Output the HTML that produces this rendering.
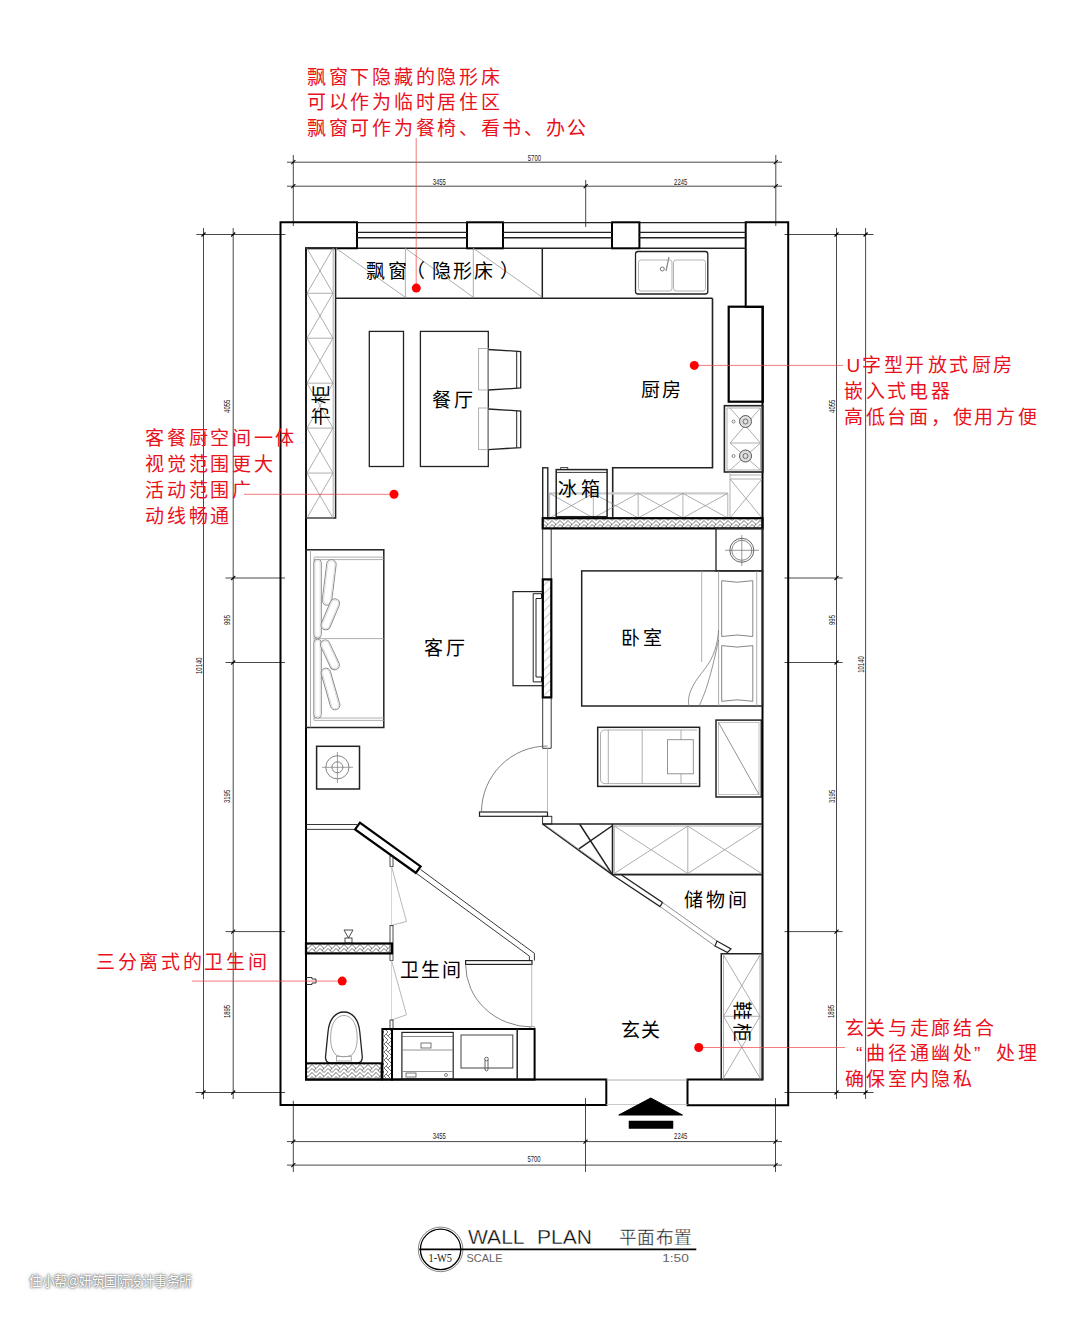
<!DOCTYPE html>
<html lang="zh-CN"><head><meta charset="utf-8"><title>WALL PLAN</title>
<style>
html,body{margin:0;padding:0;background:#fff;}
body{width:1080px;height:1318px;overflow:hidden;position:relative;font-family:"Liberation Sans",sans-serif;}
svg{position:absolute;left:0;top:0;}
.wm{position:absolute;left:29px;top:1272px;font-size:13.8px;line-height:19px;color:#fff;text-shadow:0 0 1px #777,0 0 2px #888,0 0 3px #999,0 0 5px #bbb;white-space:nowrap;letter-spacing:-0.6px;transform:scaleX(0.935);transform-origin:0 0;}
</style></head><body>
<svg width="1080" height="1318" viewBox="0 0 1080 1318">
<defs>
<pattern id="hz" patternUnits="userSpaceOnUse" width="8" height="8" y="0.5">
<path d="M0 0 L4 4 L8 0 M0 4 L4 8 L8 4 M4 4 L2 6 M8 0 L6 2 M0 0 L2 -2 M8 8 L6 10" stroke="#666" stroke-width="0.85" fill="none"/></pattern>
<pattern id="hv" patternUnits="userSpaceOnUse" width="8" height="8" patternTransform="rotate(90)">
<path d="M0 0 L4 4 L8 0 M0 4 L4 8 L8 4 M4 4 L2 6 M8 0 L6 2 M0 0 L2 -2 M8 8 L6 10" stroke="#666" stroke-width="0.85" fill="none"/></pattern>
<pattern id="hd" patternUnits="userSpaceOnUse" width="6" height="6" patternTransform="rotate(45)">
<path d="M0 0 V6" stroke="#777" stroke-width="0.8" fill="none"/></pattern>
<pattern id="hd2" patternUnits="userSpaceOnUse" width="7" height="7" patternTransform="rotate(-55)">
<path d="M0 0 V7" stroke="#888" stroke-width="0.8" fill="none"/></pattern>
</defs>
<rect x="0" y="0" width="1080" height="1318" fill="#fff"/>
<line x1="287" y1="162.2" x2="782" y2="162.2" stroke="#333" stroke-width="0.9"/>
<line x1="287" y1="186.2" x2="782" y2="186.2" stroke="#333" stroke-width="0.9"/>
<line x1="293.3" y1="155" x2="293.3" y2="226" stroke="#333" stroke-width="0.9"/>
<line x1="775.8" y1="155" x2="775.8" y2="226" stroke="#333" stroke-width="0.9"/>
<line x1="585.7" y1="180" x2="585.7" y2="227" stroke="#333" stroke-width="0.9"/>
<line x1="291.3" y1="164.2" x2="295.3" y2="160.2" stroke="#000" stroke-width="1.1"/>
<line x1="773.8" y1="164.2" x2="777.8" y2="160.2" stroke="#000" stroke-width="1.1"/>
<line x1="291.3" y1="188.2" x2="295.3" y2="184.2" stroke="#000" stroke-width="1.1"/>
<line x1="583.7" y1="188.2" x2="587.7" y2="184.2" stroke="#000" stroke-width="1.1"/>
<line x1="773.8" y1="188.2" x2="777.8" y2="184.2" stroke="#000" stroke-width="1.1"/>
<text x="534.4" y="157.2" font-size="9.8" fill="#222" text-anchor="middle" dominant-baseline="central" font-family="Liberation Sans" textLength="13.2" lengthAdjust="spacingAndGlyphs">5700</text>
<text x="439.3" y="181.2" font-size="9.8" fill="#222" text-anchor="middle" dominant-baseline="central" font-family="Liberation Sans" textLength="13.2" lengthAdjust="spacingAndGlyphs">3455</text>
<text x="680.7" y="181.2" font-size="9.8" fill="#222" text-anchor="middle" dominant-baseline="central" font-family="Liberation Sans" textLength="13.2" lengthAdjust="spacingAndGlyphs">2245</text>
<line x1="287" y1="1141.6" x2="782" y2="1141.6" stroke="#333" stroke-width="0.9"/>
<line x1="287" y1="1165.1" x2="782" y2="1165.1" stroke="#333" stroke-width="0.9"/>
<line x1="293.3" y1="1100.7" x2="293.3" y2="1172" stroke="#333" stroke-width="0.9"/>
<line x1="585.5" y1="1098" x2="585.5" y2="1172" stroke="#333" stroke-width="0.9"/>
<line x1="775.5" y1="1098" x2="775.5" y2="1172" stroke="#333" stroke-width="0.9"/>
<line x1="291.3" y1="1143.6" x2="295.3" y2="1139.6" stroke="#000" stroke-width="1.1"/>
<line x1="583.5" y1="1143.6" x2="587.5" y2="1139.6" stroke="#000" stroke-width="1.1"/>
<line x1="773.5" y1="1143.6" x2="777.5" y2="1139.6" stroke="#000" stroke-width="1.1"/>
<line x1="291.3" y1="1167.1" x2="295.3" y2="1163.1" stroke="#000" stroke-width="1.1"/>
<line x1="773.5" y1="1167.1" x2="777.5" y2="1163.1" stroke="#000" stroke-width="1.1"/>
<text x="439.3" y="1135.5" font-size="9.8" fill="#222" text-anchor="middle" dominant-baseline="central" font-family="Liberation Sans" textLength="13.2" lengthAdjust="spacingAndGlyphs">3455</text>
<text x="680.7" y="1135.5" font-size="9.8" fill="#222" text-anchor="middle" dominant-baseline="central" font-family="Liberation Sans" textLength="13.2" lengthAdjust="spacingAndGlyphs">2245</text>
<text x="534" y="1158.5" font-size="9.8" fill="#222" text-anchor="middle" dominant-baseline="central" font-family="Liberation Sans" textLength="13.2" lengthAdjust="spacingAndGlyphs">5700</text>
<line x1="203.5" y1="228" x2="203.5" y2="1099" stroke="#333" stroke-width="0.9"/>
<line x1="233.2" y1="228" x2="233.2" y2="1099" stroke="#333" stroke-width="0.9"/>
<line x1="196.4" y1="234.5" x2="285.5" y2="234.5" stroke="#333" stroke-width="0.9"/>
<line x1="195.6" y1="1092.5" x2="285" y2="1092.5" stroke="#333" stroke-width="0.9"/>
<line x1="225.5" y1="578" x2="285" y2="578" stroke="#333" stroke-width="0.9"/>
<line x1="225.5" y1="662.5" x2="285" y2="662.5" stroke="#333" stroke-width="0.9"/>
<line x1="225.5" y1="931.6" x2="285" y2="931.6" stroke="#333" stroke-width="0.9"/>
<line x1="201.5" y1="236.5" x2="205.5" y2="232.5" stroke="#000" stroke-width="1.1"/>
<line x1="201.5" y1="1094.5" x2="205.5" y2="1090.5" stroke="#000" stroke-width="1.1"/>
<line x1="231.2" y1="236.5" x2="235.2" y2="232.5" stroke="#000" stroke-width="1.1"/>
<line x1="231.2" y1="580" x2="235.2" y2="576" stroke="#000" stroke-width="1.1"/>
<line x1="231.2" y1="664.5" x2="235.2" y2="660.5" stroke="#000" stroke-width="1.1"/>
<line x1="231.2" y1="933.6" x2="235.2" y2="929.6" stroke="#000" stroke-width="1.1"/>
<line x1="231.2" y1="1094.5" x2="235.2" y2="1090.5" stroke="#000" stroke-width="1.1"/>
<text x="226.5" y="406.3" font-size="9.8" fill="#222" text-anchor="middle" dominant-baseline="central" font-family="Liberation Sans" textLength="13.2" lengthAdjust="spacingAndGlyphs" transform="rotate(-90 226.5 406.3)">4055</text>
<text x="226.5" y="620" font-size="9.8" fill="#222" text-anchor="middle" dominant-baseline="central" font-family="Liberation Sans" textLength="9.9" lengthAdjust="spacingAndGlyphs" transform="rotate(-90 226.5 620)">995</text>
<text x="226.5" y="796.4" font-size="9.8" fill="#222" text-anchor="middle" dominant-baseline="central" font-family="Liberation Sans" textLength="13.2" lengthAdjust="spacingAndGlyphs" transform="rotate(-90 226.5 796.4)">3195</text>
<text x="226.7" y="1011.5" font-size="9.8" fill="#222" text-anchor="middle" dominant-baseline="central" font-family="Liberation Sans" textLength="13.2" lengthAdjust="spacingAndGlyphs" transform="rotate(-90 226.7 1011.5)">1895</text>
<text x="198.5" y="665.7" font-size="9.8" fill="#222" text-anchor="middle" dominant-baseline="central" font-family="Liberation Sans" textLength="16.5" lengthAdjust="spacingAndGlyphs" transform="rotate(-90 198.5 665.7)">10140</text>
<line x1="836.5" y1="228" x2="836.5" y2="1099" stroke="#333" stroke-width="0.9"/>
<line x1="865.6" y1="228" x2="865.6" y2="1099" stroke="#333" stroke-width="0.9"/>
<line x1="784.5" y1="234.5" x2="873.6" y2="234.5" stroke="#333" stroke-width="0.9"/>
<line x1="784.5" y1="1092.5" x2="873.6" y2="1092.5" stroke="#333" stroke-width="0.9"/>
<line x1="784.5" y1="578" x2="842.7" y2="578" stroke="#333" stroke-width="0.9"/>
<line x1="784.5" y1="662.5" x2="842.7" y2="662.5" stroke="#333" stroke-width="0.9"/>
<line x1="784.5" y1="931.6" x2="842.7" y2="931.6" stroke="#333" stroke-width="0.9"/>
<line x1="863.6" y1="236.5" x2="867.6" y2="232.5" stroke="#000" stroke-width="1.1"/>
<line x1="863.6" y1="1094.5" x2="867.6" y2="1090.5" stroke="#000" stroke-width="1.1"/>
<line x1="834.5" y1="236.5" x2="838.5" y2="232.5" stroke="#000" stroke-width="1.1"/>
<line x1="834.5" y1="580" x2="838.5" y2="576" stroke="#000" stroke-width="1.1"/>
<line x1="834.5" y1="664.5" x2="838.5" y2="660.5" stroke="#000" stroke-width="1.1"/>
<line x1="834.5" y1="933.6" x2="838.5" y2="929.6" stroke="#000" stroke-width="1.1"/>
<line x1="834.5" y1="1094.5" x2="838.5" y2="1090.5" stroke="#000" stroke-width="1.1"/>
<text x="831.8" y="406.3" font-size="9.8" fill="#222" text-anchor="middle" dominant-baseline="central" font-family="Liberation Sans" textLength="13.2" lengthAdjust="spacingAndGlyphs" transform="rotate(-90 831.8 406.3)">4055</text>
<text x="831.8" y="620" font-size="9.8" fill="#222" text-anchor="middle" dominant-baseline="central" font-family="Liberation Sans" textLength="9.9" lengthAdjust="spacingAndGlyphs" transform="rotate(-90 831.8 620)">995</text>
<text x="831.8" y="796.4" font-size="9.8" fill="#222" text-anchor="middle" dominant-baseline="central" font-family="Liberation Sans" textLength="13.2" lengthAdjust="spacingAndGlyphs" transform="rotate(-90 831.8 796.4)">3195</text>
<text x="830.5" y="1011.5" font-size="9.8" fill="#222" text-anchor="middle" dominant-baseline="central" font-family="Liberation Sans" textLength="13.2" lengthAdjust="spacingAndGlyphs" transform="rotate(-90 830.5 1011.5)">1895</text>
<text x="860" y="664.5" font-size="9.8" fill="#222" text-anchor="middle" dominant-baseline="central" font-family="Liberation Sans" textLength="16.5" lengthAdjust="spacingAndGlyphs" transform="rotate(-90 860 664.5)">10140</text>
<path d="M280.5 1105 V222.3 H357 V248.3 H306 V1079.6 H606.3 V1105 Z" stroke="#000" stroke-width="2.0" fill="none" />
<path d="M745.7 222.3 H788.2 V1105.3 H687.5 V1079.6 H762.5 V307 H745.7 Z" stroke="#000" stroke-width="2.0" fill="none" />
<rect x="467" y="222.3" width="36" height="26.0" stroke="#000" stroke-width="2.0" fill="none"/>
<rect x="612" y="222.3" width="27.4" height="26.0" stroke="#000" stroke-width="2.0" fill="none"/>
<line x1="357" y1="222.6" x2="467" y2="222.6" stroke="#222" stroke-width="1.4"/>
<line x1="357" y1="232.4" x2="467" y2="232.4" stroke="#222" stroke-width="1.4"/>
<line x1="357" y1="237.8" x2="467" y2="237.8" stroke="#222" stroke-width="1.4"/>
<line x1="357" y1="248.3" x2="467" y2="248.3" stroke="#222" stroke-width="1.4"/>
<line x1="503" y1="222.6" x2="612" y2="222.6" stroke="#222" stroke-width="1.4"/>
<line x1="503" y1="232.4" x2="612" y2="232.4" stroke="#222" stroke-width="1.4"/>
<line x1="503" y1="237.8" x2="612" y2="237.8" stroke="#222" stroke-width="1.4"/>
<line x1="503" y1="248.3" x2="612" y2="248.3" stroke="#222" stroke-width="1.4"/>
<line x1="639.4" y1="222.6" x2="745.7" y2="222.6" stroke="#222" stroke-width="1.4"/>
<line x1="639.4" y1="232.4" x2="745.7" y2="232.4" stroke="#222" stroke-width="1.4"/>
<line x1="639.4" y1="237.8" x2="745.7" y2="237.8" stroke="#222" stroke-width="1.4"/>
<line x1="639.4" y1="248.3" x2="745.7" y2="248.3" stroke="#222" stroke-width="1.4"/>
<line x1="606.3" y1="1080" x2="687.5" y2="1080" stroke="#999" stroke-width="0.8"/>
<line x1="606.3" y1="1104.5" x2="687.5" y2="1104.5" stroke="#bbb" stroke-width="0.8"/>
<path d="M618.75 1115 L682.5 1115 L650.75 1098 Z" stroke="#000" stroke-width="1" fill="#000" />
<rect x="628.75" y="1120.75" width="44.5" height="8.0" stroke="#000" stroke-width="0" fill="#000"/>
<rect x="306" y="248.3" width="29.6" height="269.7" stroke="#222" stroke-width="1.5" fill="none"/>
<line x1="333.2" y1="248.3" x2="333.2" y2="518" stroke="#999" stroke-width="0.8"/>
<line x1="307" y1="293.25" x2="333" y2="293.25" stroke="#999" stroke-width="0.8"/>
<line x1="307" y1="248.3" x2="333" y2="293.25" stroke="#999" stroke-width="0.8"/>
<line x1="307" y1="293.25" x2="333" y2="248.3" stroke="#999" stroke-width="0.8"/>
<line x1="307" y1="338.20000000000005" x2="333" y2="338.20000000000005" stroke="#999" stroke-width="0.8"/>
<line x1="307" y1="293.25" x2="333" y2="338.20000000000005" stroke="#999" stroke-width="0.8"/>
<line x1="307" y1="338.20000000000005" x2="333" y2="293.25" stroke="#999" stroke-width="0.8"/>
<line x1="307" y1="383.15000000000003" x2="333" y2="383.15000000000003" stroke="#999" stroke-width="0.8"/>
<line x1="307" y1="338.20000000000005" x2="333" y2="383.15000000000003" stroke="#999" stroke-width="0.8"/>
<line x1="307" y1="383.15000000000003" x2="333" y2="338.20000000000005" stroke="#999" stroke-width="0.8"/>
<line x1="307" y1="428.1" x2="333" y2="428.1" stroke="#999" stroke-width="0.8"/>
<line x1="307" y1="383.15000000000003" x2="333" y2="428.1" stroke="#999" stroke-width="0.8"/>
<line x1="307" y1="428.1" x2="333" y2="383.15000000000003" stroke="#999" stroke-width="0.8"/>
<line x1="307" y1="473.05" x2="333" y2="473.05" stroke="#999" stroke-width="0.8"/>
<line x1="307" y1="428.1" x2="333" y2="473.05" stroke="#999" stroke-width="0.8"/>
<line x1="307" y1="473.05" x2="333" y2="428.1" stroke="#999" stroke-width="0.8"/>
<line x1="307" y1="518.0" x2="333" y2="518.0" stroke="#999" stroke-width="0.8"/>
<line x1="307" y1="473.05" x2="333" y2="518.0" stroke="#999" stroke-width="0.8"/>
<line x1="307" y1="518.0" x2="333" y2="473.05" stroke="#999" stroke-width="0.8"/>
<rect x="312" y="384" width="20" height="43" fill="#fff" fill-opacity="0"/>
<text x="321.7" y="416.05" font-size="19" fill="#000" text-anchor="middle" dominant-baseline="central" font-family="Liberation Sans" font-weight="normal" transform="rotate(-90 321.7 416.05)">书</text>
<text x="321.7" y="394.55" font-size="19" fill="#000" text-anchor="middle" dominant-baseline="central" font-family="Liberation Sans" font-weight="normal" transform="rotate(-90 321.7 394.55)">柜</text>
<line x1="336" y1="298.3" x2="712.5" y2="298.3" stroke="#222" stroke-width="1.5"/>
<line x1="542.3" y1="248.3" x2="542.3" y2="298.3" stroke="#222" stroke-width="1.5"/>
<line x1="405.4" y1="248.3" x2="405.4" y2="297.3" stroke="#999" stroke-width="0.8"/>
<line x1="473.3" y1="248.3" x2="473.3" y2="297.3" stroke="#999" stroke-width="0.8"/>
<line x1="336" y1="248.3" x2="405.4" y2="297.3" stroke="#999" stroke-width="0.8"/>
<line x1="405.4" y1="248.3" x2="473.3" y2="297.3" stroke="#999" stroke-width="0.8"/>
<line x1="473.3" y1="248.3" x2="542.3" y2="297.3" stroke="#999" stroke-width="0.8"/>
<text x="375.8" y="271.3" font-size="19" fill="#000" text-anchor="middle" dominant-baseline="central" font-family="Liberation Sans" font-weight="normal">飘</text>
<text x="397" y="271.3" font-size="19" fill="#000" text-anchor="middle" dominant-baseline="central" font-family="Liberation Sans" font-weight="normal">窗</text>
<text x="415" y="271.3" font-size="19" fill="#000" text-anchor="middle" dominant-baseline="central" font-family="Liberation Sans" font-weight="normal">（</text>
<text x="441" y="271.3" font-size="19" fill="#000" text-anchor="middle" dominant-baseline="central" font-family="Liberation Sans" font-weight="normal">隐</text>
<text x="462.5" y="271.3" font-size="19" fill="#000" text-anchor="middle" dominant-baseline="central" font-family="Liberation Sans" font-weight="normal">形</text>
<text x="483.5" y="271.3" font-size="19" fill="#000" text-anchor="middle" dominant-baseline="central" font-family="Liberation Sans" font-weight="normal">床</text>
<text x="509" y="271.3" font-size="19" fill="#000" text-anchor="middle" dominant-baseline="central" font-family="Liberation Sans" font-weight="normal">）</text>
<path d="M712.5 298.3 V467.8 H612.7 V518" stroke="#222" stroke-width="1.6" fill="none" />
<rect x="635.5" y="251.5" width="72.3" height="42.5" stroke="#222" stroke-width="1.3" fill="none" rx="2.5"/>
<rect x="638.5" y="260" width="33.5" height="31" stroke="#aaa" stroke-width="0.9" fill="none" rx="2.5"/>
<rect x="673.5" y="260" width="32.0" height="31" stroke="#aaa" stroke-width="0.9" fill="none" rx="2.5"/>
<circle cx="662.3" cy="269" r="2" fill="none" stroke="#555" stroke-width="0.8"/>
<line x1="666" y1="271" x2="669" y2="257" stroke="#888" stroke-width="1.2"/>
<rect x="728.7" y="306.7" width="34.1" height="95.0" stroke="#000" stroke-width="2.2" fill="none"/>
<rect x="724.4" y="405.7" width="38.4" height="66.3" stroke="#222" stroke-width="1.6" fill="none"/>
<rect x="727" y="408" width="33.5" height="62" stroke="#999" stroke-width="0.8" fill="none"/>
<line x1="730" y1="408" x2="760.5" y2="443" stroke="#999" stroke-width="0.8"/>
<line x1="730" y1="443" x2="760.5" y2="408" stroke="#999" stroke-width="0.8"/>
<line x1="730" y1="443" x2="760.5" y2="470" stroke="#999" stroke-width="0.8"/>
<line x1="730" y1="470" x2="760.5" y2="443" stroke="#999" stroke-width="0.8"/>
<line x1="730" y1="443" x2="760.5" y2="443" stroke="#999" stroke-width="0.8"/>
<circle cx="745.5" cy="421.5" r="6" fill="#ddd" stroke="#555" stroke-width="1"/>
<circle cx="745.5" cy="421.5" r="2.5" fill="none" stroke="#555" stroke-width="0.8"/>
<circle cx="733.5" cy="421.5" r="1.5" fill="none" stroke="#555" stroke-width="0.7"/>
<circle cx="745.5" cy="456" r="6" fill="#ddd" stroke="#555" stroke-width="1"/>
<circle cx="745.5" cy="456" r="2.5" fill="none" stroke="#555" stroke-width="0.8"/>
<circle cx="733.5" cy="456" r="1.5" fill="none" stroke="#555" stroke-width="0.7"/>
<line x1="730" y1="475" x2="762" y2="475" stroke="#999" stroke-width="0.8"/>
<line x1="730" y1="479" x2="762" y2="479" stroke="#999" stroke-width="0.8"/>
<line x1="730" y1="472" x2="730" y2="518" stroke="#aaa" stroke-width="0.9"/>
<line x1="730" y1="479" x2="762" y2="518" stroke="#999" stroke-width="0.8"/>
<line x1="730" y1="518" x2="762" y2="479" stroke="#999" stroke-width="0.8"/>
<rect x="542.7" y="467.8" width="5.1" height="50.4" stroke="#222" stroke-width="1.4" fill="none"/>
<line x1="549.6" y1="493.3" x2="727.8" y2="493.3" stroke="#ccc" stroke-width="2.2"/>
<line x1="549.6" y1="493.3" x2="549.6" y2="518" stroke="#aaa" stroke-width="0.9"/>
<line x1="593.3" y1="493.3" x2="593.3" y2="518" stroke="#aaa" stroke-width="0.9"/>
<line x1="638.2" y1="493.3" x2="638.2" y2="518" stroke="#aaa" stroke-width="0.9"/>
<line x1="682.9" y1="493.3" x2="682.9" y2="518" stroke="#aaa" stroke-width="0.9"/>
<line x1="727.8" y1="493.3" x2="727.8" y2="518" stroke="#aaa" stroke-width="0.9"/>
<line x1="549.6" y1="493.3" x2="593.3" y2="518" stroke="#999" stroke-width="0.8"/>
<line x1="549.6" y1="518" x2="593.3" y2="493.3" stroke="#999" stroke-width="0.8"/>
<line x1="593.3" y1="493.3" x2="638.2" y2="518" stroke="#999" stroke-width="0.8"/>
<line x1="593.3" y1="518" x2="638.2" y2="493.3" stroke="#999" stroke-width="0.8"/>
<line x1="638.2" y1="493.3" x2="682.9" y2="518" stroke="#999" stroke-width="0.8"/>
<line x1="638.2" y1="518" x2="682.9" y2="493.3" stroke="#999" stroke-width="0.8"/>
<line x1="682.9" y1="493.3" x2="727.8" y2="518" stroke="#999" stroke-width="0.8"/>
<line x1="682.9" y1="518" x2="727.8" y2="493.3" stroke="#999" stroke-width="0.8"/>
<rect x="556.2" y="469.6" width="50.9" height="47.1" fill="#fff" fill-opacity="0.0"/>
<rect x="556.2" y="469.6" width="50.9" height="47.1" stroke="#222" stroke-width="1.5" fill="none"/>
<line x1="556.2" y1="472.4" x2="607.1" y2="472.4" stroke="#222" stroke-width="0.9"/>
<rect x="560.7" y="467.6" width="7.1" height="2.0" stroke="#222" stroke-width="0.8" fill="none"/>
<text x="567.8" y="489.2" font-size="19" fill="#000" text-anchor="middle" dominant-baseline="central" font-family="Liberation Sans" font-weight="normal">冰</text>
<text x="590.5" y="489.2" font-size="19" fill="#000" text-anchor="middle" dominant-baseline="central" font-family="Liberation Sans" font-weight="normal">箱</text>
<rect x="542.7" y="518.2" width="219.8" height="10.2" stroke="#000" stroke-width="2.2" fill="url(#hz)"/>
<rect x="369.3" y="331.4" width="34.2" height="135.1" stroke="#222" stroke-width="1.3" fill="none"/>
<rect x="420.4" y="331.4" width="67.9" height="135.1" stroke="#222" stroke-width="1.3" fill="none"/>
<rect x="478.6" y="348.5" width="9.7" height="41.5" stroke="#aaa" stroke-width="0.9" fill="none"/>
<path d="M488.3 349.5 L520.7 351.5 V388 L488.3 390" stroke="#222" stroke-width="1.3" fill="none" />
<line x1="516.7" y1="351.2" x2="516.7" y2="388.2" stroke="#222" stroke-width="1"/>
<rect x="478.6" y="408" width="9.7" height="41.6" stroke="#aaa" stroke-width="0.9" fill="none"/>
<path d="M488.3 409 L520.7 411 V447.6 L488.3 449.6" stroke="#222" stroke-width="1.3" fill="none" />
<line x1="516.7" y1="410.7" x2="516.7" y2="447.8" stroke="#222" stroke-width="1"/>
<text x="441.65" y="400.4" font-size="19" fill="#000" text-anchor="middle" dominant-baseline="central" font-family="Liberation Sans" font-weight="normal">餐</text>
<text x="463.35" y="400.4" font-size="19" fill="#000" text-anchor="middle" dominant-baseline="central" font-family="Liberation Sans" font-weight="normal">厅</text>
<text x="650.55" y="390.8" font-size="19" fill="#000" text-anchor="middle" dominant-baseline="central" font-family="Liberation Sans" font-weight="normal">厨</text>
<text x="671.85" y="390.8" font-size="19" fill="#000" text-anchor="middle" dominant-baseline="central" font-family="Liberation Sans" font-weight="normal">房</text>
<rect x="306" y="549.8" width="77.8" height="177.7" stroke="#222" stroke-width="1.5" fill="none"/>
<line x1="310.5" y1="549.8" x2="310.5" y2="727.5" stroke="#999" stroke-width="0.8"/>
<line x1="314" y1="557.8" x2="314" y2="720" stroke="#999" stroke-width="0.8"/>
<line x1="314" y1="557.1" x2="383.8" y2="557.1" stroke="#999" stroke-width="0.8"/>
<line x1="314" y1="559.6" x2="383.8" y2="559.6" stroke="#999" stroke-width="0.8"/>
<line x1="314" y1="718" x2="383.8" y2="718" stroke="#999" stroke-width="0.8"/>
<line x1="314" y1="720.4" x2="383.8" y2="720.4" stroke="#999" stroke-width="0.8"/>
<line x1="314" y1="638.6" x2="383.8" y2="638.6" stroke="#999" stroke-width="0.8"/>
<rect x="313.85" y="559.2" width="7.5" height="79" rx="3.75" transform="rotate(0 317.6 598.7)" fill="#fff" stroke="#888" stroke-width="0.9"/>
<rect x="315.05" y="560.4000000000001" width="5.1" height="76.6" rx="2.55" transform="rotate(0 317.6 598.7)" fill="none" stroke="#ccc" stroke-width="0.6"/>
<rect x="313.85" y="639.2" width="7.5" height="79" rx="3.75" transform="rotate(0 317.6 678.7)" fill="#fff" stroke="#888" stroke-width="0.9"/>
<rect x="315.05" y="640.4000000000001" width="5.1" height="76.6" rx="2.55" transform="rotate(0 317.6 678.7)" fill="none" stroke="#ccc" stroke-width="0.6"/>
<rect x="324.45" y="559.4" width="9.5" height="46" rx="4.75" transform="rotate(7 329.2 582.4)" fill="#fff" stroke="#888" stroke-width="0.9"/>
<rect x="325.65" y="560.6" width="7.1" height="43.6" rx="3.55" transform="rotate(7 329.2 582.4)" fill="none" stroke="#ccc" stroke-width="0.6"/>
<rect x="325.55" y="597.8" width="9.5" height="33" rx="4.75" transform="rotate(23 330.3 614.3)" fill="#fff" stroke="#888" stroke-width="0.9"/>
<rect x="326.75" y="599.0" width="7.1" height="30.6" rx="3.55" transform="rotate(23 330.3 614.3)" fill="none" stroke="#ccc" stroke-width="0.6"/>
<rect x="325.15" y="638.8" width="9.5" height="32" rx="4.75" transform="rotate(-25 329.9 654.8)" fill="#fff" stroke="#888" stroke-width="0.9"/>
<rect x="326.34999999999997" y="640.0" width="7.1" height="29.6" rx="3.55" transform="rotate(-25 329.9 654.8)" fill="none" stroke="#ccc" stroke-width="0.6"/>
<rect x="325.75" y="667.5" width="9.5" height="43" rx="4.75" transform="rotate(-16 330.5 689)" fill="#fff" stroke="#888" stroke-width="0.9"/>
<rect x="326.95" y="668.7" width="7.1" height="40.6" rx="3.55" transform="rotate(-16 330.5 689)" fill="none" stroke="#ccc" stroke-width="0.6"/>
<text x="433.75" y="648.5" font-size="19" fill="#000" text-anchor="middle" dominant-baseline="central" font-family="Liberation Sans" font-weight="normal">客</text>
<text x="455.45" y="648.5" font-size="19" fill="#000" text-anchor="middle" dominant-baseline="central" font-family="Liberation Sans" font-weight="normal">厅</text>
<rect x="316.6" y="746.3" width="42.9" height="42.7" stroke="#222" stroke-width="1.5" fill="none"/>
<circle cx="337.4" cy="767.3" r="11.6" fill="none" stroke="#777" stroke-width="0.9"/>
<circle cx="337.4" cy="767.3" r="5.5" fill="none" stroke="#777" stroke-width="0.9"/>
<line x1="322" y1="767.3" x2="353" y2="767.3" stroke="#777" stroke-width="0.7"/>
<line x1="337.4" y1="752" x2="337.4" y2="783" stroke="#777" stroke-width="0.7"/>
<rect x="513" y="591.6" width="29.8" height="94.1" stroke="#222" stroke-width="1.2" fill="none"/>
<path d="M541.5 593.7 H533.2 V681.9 H541.5 V677 H536 V598.5 H541.5 Z" stroke="#222" stroke-width="1" fill="#fff" />
<line x1="542.7" y1="528.4" x2="542.7" y2="579.4" stroke="#222" stroke-width="0.9"/>
<line x1="551.2" y1="528.4" x2="551.2" y2="579.4" stroke="#222" stroke-width="0.9"/>
<line x1="542.7" y1="697.4" x2="542.7" y2="748.3" stroke="#222" stroke-width="0.9"/>
<line x1="551.2" y1="697.4" x2="551.2" y2="748.3" stroke="#222" stroke-width="0.9"/>
<line x1="542.7" y1="748.3" x2="551.2" y2="748.3" stroke="#222" stroke-width="0.9"/>
<rect x="542.8" y="579.4" width="8.5" height="118.0" stroke="#000" stroke-width="2.2" fill="url(#hd)"/>
<rect x="716" y="528.4" width="46.5" height="42.5" stroke="#222" stroke-width="1.3" fill="none"/>
<circle cx="741.8" cy="550.3" r="12" fill="none" stroke="#555" stroke-width="0.9"/>
<circle cx="741.8" cy="550.3" r="10" fill="none" stroke="#555" stroke-width="0.7"/>
<line x1="725" y1="550.3" x2="759" y2="550.3" stroke="#555" stroke-width="0.6"/>
<line x1="741.8" y1="535" x2="741.8" y2="566" stroke="#555" stroke-width="0.6"/>
<rect x="581.7" y="570.9" width="180.8" height="135.1" stroke="#222" stroke-width="1.5" fill="none"/>
<line x1="701.7" y1="571" x2="701.7" y2="662" stroke="#999" stroke-width="0.8"/>
<line x1="718.6" y1="571" x2="718.6" y2="706" stroke="#999" stroke-width="0.8"/>
<line x1="756.7" y1="571" x2="756.7" y2="706" stroke="#999" stroke-width="0.8"/>
<path d="M721.7 580.7 Q737 583.7 752.8 580.7 V636.5 Q737 633.5 721.7 636.5 Z" stroke="#777" stroke-width="0.9" fill="none" />
<path d="M721.7 645.6 Q737 648.6 752.8 645.6 V701.3 Q737 698.3 721.7 701.3 Z" stroke="#777" stroke-width="0.9" fill="none" />
<path d="M718.6 630 C716 665 700 670 692 688 C688 696 688 702 689 706" stroke="#777" stroke-width="0.8" fill="none" />
<path d="M718.6 640 C712 670 707 690 699 706" stroke="#777" stroke-width="0.8" fill="none" />
<text x="630.05" y="638.8" font-size="19" fill="#000" text-anchor="middle" dominant-baseline="central" font-family="Liberation Sans" font-weight="normal">卧</text>
<text x="652.55" y="638.8" font-size="19" fill="#000" text-anchor="middle" dominant-baseline="central" font-family="Liberation Sans" font-weight="normal">室</text>
<rect x="597.7" y="727.3" width="101.9" height="59.1" stroke="#222" stroke-width="1.5" fill="none"/>
<path d="M697 730 H605 Q600.5 730 600.5 734.5 V779 Q600.5 783.6 605 783.6 H697" stroke="#999" stroke-width="0.8" fill="none" />
<line x1="608.3" y1="730" x2="608.3" y2="783.6" stroke="#999" stroke-width="0.8"/>
<line x1="642.2" y1="730" x2="642.2" y2="783.6" stroke="#999" stroke-width="0.8"/>
<line x1="681" y1="730" x2="681" y2="783.6" stroke="#999" stroke-width="0.8"/>
<rect x="667.5" y="739.7" width="25.8" height="34.1" stroke="#888" stroke-width="0.9" fill="#fff"/>
<rect x="716" y="720.1" width="45.3" height="76.9" stroke="#222" stroke-width="1.5" fill="none"/>
<rect x="718.5" y="722.5" width="40.5" height="72.0" stroke="#aaa" stroke-width="0.7" fill="none"/>
<line x1="718.5" y1="722.5" x2="759" y2="794.5" stroke="#777" stroke-width="0.8"/>
<rect x="479.5" y="812" width="68.0" height="4.3" stroke="#222" stroke-width="1.2" fill="none"/>
<path d="M481.5 812 A66 66 0 0 1 547.5 746" stroke="#666" stroke-width="0.8" fill="none" />
<line x1="547.5" y1="748.3" x2="547.5" y2="812" stroke="#aaa" stroke-width="0.8"/>
<rect x="542.6" y="816.3" width="9.2" height="7.7" stroke="#222" stroke-width="0.9" fill="none"/>
<line x1="542.6" y1="824" x2="762.5" y2="824" stroke="#222" stroke-width="1.6"/>
<line x1="542.6" y1="824" x2="612.6" y2="874.8" stroke="#222" stroke-width="1.5"/>
<line x1="546" y1="825.5" x2="612.6" y2="873.5" stroke="#999" stroke-width="0.8"/>
<line x1="579.6" y1="824" x2="612.6" y2="874.8" stroke="#222" stroke-width="1.5"/>
<line x1="612.6" y1="825.5" x2="578.9" y2="848.9" stroke="#222" stroke-width="1.5"/>
<line x1="612.5" y1="824" x2="612.5" y2="875" stroke="#222" stroke-width="1.6"/>
<line x1="614.3" y1="826" x2="614.3" y2="874" stroke="#999" stroke-width="0.8"/>
<line x1="614.3" y1="826" x2="687.8" y2="873.5" stroke="#999" stroke-width="0.8"/>
<line x1="614.3" y1="873.5" x2="687.8" y2="826" stroke="#999" stroke-width="0.8"/>
<line x1="687.8" y1="826" x2="761.5" y2="873.5" stroke="#999" stroke-width="0.8"/>
<line x1="687.8" y1="873.5" x2="761.5" y2="826" stroke="#999" stroke-width="0.8"/>
<line x1="687.8" y1="826" x2="687.8" y2="873.5" stroke="#999" stroke-width="0.8"/>
<line x1="614.3" y1="873.5" x2="761.5" y2="873.5" stroke="#999" stroke-width="0.8"/>
<line x1="614.3" y1="826" x2="761.5" y2="826" stroke="#999" stroke-width="0.8"/>
<line x1="612.5" y1="874.8" x2="762.5" y2="874.8" stroke="#222" stroke-width="1.6"/>
<path d="M612.5 875 L660 906.5 L662.5 902.5 L621.5 875" stroke="#222" stroke-width="1.3" fill="none" />
<path d="M660 906.5 L715 946 M662.5 902.5 L717 941" stroke="#777" stroke-width="0.8" fill="none" />
<path d="M715 946 L727.5 952.5 L731 949 L717 941 Z" stroke="#222" stroke-width="1.2" fill="none" />
<text x="693.75" y="900.75" font-size="19" fill="#000" text-anchor="middle" dominant-baseline="central" font-family="Liberation Sans" font-weight="normal">储</text>
<text x="715.65" y="900.75" font-size="19" fill="#000" text-anchor="middle" dominant-baseline="central" font-family="Liberation Sans" font-weight="normal">物</text>
<text x="737.55" y="900.75" font-size="19" fill="#000" text-anchor="middle" dominant-baseline="central" font-family="Liberation Sans" font-weight="normal">间</text>
<rect x="721.25" y="953.75" width="41.25" height="125.75" stroke="#222" stroke-width="1.5" fill="none"/>
<line x1="723.5" y1="953.75" x2="723.5" y2="1079.5" stroke="#999" stroke-width="0.8"/>
<line x1="760" y1="953.75" x2="760" y2="1079.5" stroke="#999" stroke-width="0.8"/>
<line x1="723.5" y1="1016.25" x2="760" y2="1016.25" stroke="#999" stroke-width="0.8"/>
<line x1="723.5" y1="955" x2="760" y2="1016.25" stroke="#999" stroke-width="0.8"/>
<line x1="723.5" y1="1016.25" x2="760" y2="955" stroke="#999" stroke-width="0.8"/>
<line x1="723.5" y1="1016.25" x2="760" y2="1078" stroke="#999" stroke-width="0.8"/>
<line x1="723.5" y1="1078" x2="760" y2="1016.25" stroke="#999" stroke-width="0.8"/>
<rect x="731" y="1000" width="21" height="41" fill="#fff" fill-opacity="0"/>
<text x="741.25" y="1010.0" font-size="19" fill="#000" text-anchor="middle" dominant-baseline="central" font-family="Liberation Sans" font-weight="normal" transform="rotate(90 741.25 1010.0)">鞋</text>
<text x="741.25" y="1032.5" font-size="19" fill="#000" text-anchor="middle" dominant-baseline="central" font-family="Liberation Sans" font-weight="normal" transform="rotate(90 741.25 1032.5)">柜</text>
<text x="630.0" y="1030" font-size="19" fill="#000" text-anchor="middle" dominant-baseline="central" font-family="Liberation Sans" font-weight="normal">玄</text>
<text x="650.0" y="1030" font-size="19" fill="#000" text-anchor="middle" dominant-baseline="central" font-family="Liberation Sans" font-weight="normal">关</text>
<line x1="306" y1="824.5" x2="357" y2="824.5" stroke="#222" stroke-width="0.9"/>
<line x1="306" y1="829.4" x2="354.4" y2="829.4" stroke="#222" stroke-width="0.9"/>
<path d="M359.9 822.7 L420.6 866.4 L415.8 872.9 L355.1 829.4 Z" stroke="#000" stroke-width="2.2" fill="url(#hd2)" />
<path d="M420.6 869.5 L534.4 953.3 V960.6" stroke="#222" stroke-width="0.9" fill="none" />
<path d="M415.8 872.9 L529.4 956.1 V960.6" stroke="#222" stroke-width="0.9" fill="none" />
<rect x="390" y="856" width="3" height="10.4" stroke="#222" stroke-width="0.8" fill="none"/>
<path d="M391.5 866.4 L406.5 921.5 L391.5 925.4" stroke="#999" stroke-width="0.7" fill="none" />
<line x1="391.5" y1="866.4" x2="391.5" y2="925.4" stroke="#bbb" stroke-width="0.6"/>
<rect x="390" y="925.4" width="3" height="35.0" stroke="#222" stroke-width="0.8" fill="none"/>
<rect x="306" y="943.5" width="86" height="9.9" stroke="#000" stroke-width="2.2" fill="url(#hz)"/>
<path d="M344 930 H353 L348.5 938 Z" stroke="#222" stroke-width="0.8" fill="none" />
<rect x="345" y="938" width="7" height="5" stroke="#222" stroke-width="0.8" fill="none"/>
<path d="M391.5 960.4 L406.5 1014.8 L391.5 1020" stroke="#999" stroke-width="0.7" fill="none" />
<line x1="391.5" y1="960.4" x2="391.5" y2="1020" stroke="#bbb" stroke-width="0.6"/>
<rect x="390" y="1020" width="3" height="9" stroke="#222" stroke-width="0.8" fill="none"/>
<text x="409.35" y="970.3" font-size="19" fill="#000" text-anchor="middle" dominant-baseline="central" font-family="Liberation Sans" font-weight="normal">卫</text>
<text x="430.6" y="970.3" font-size="19" fill="#000" text-anchor="middle" dominant-baseline="central" font-family="Liberation Sans" font-weight="normal">生</text>
<text x="451.85" y="970.3" font-size="19" fill="#000" text-anchor="middle" dominant-baseline="central" font-family="Liberation Sans" font-weight="normal">间</text>
<rect x="465.6" y="960.6" width="66.4" height="3.8" stroke="#222" stroke-width="1.2" fill="none"/>
<path d="M465.6 964.4 A66.4 62.6 0 0 0 532 1027" stroke="#666" stroke-width="0.8" fill="none" />
<line x1="531.7" y1="964.4" x2="531.7" y2="1027" stroke="#aaa" stroke-width="0.8"/>
<rect x="529.4" y="1026.7" width="5.0" height="2.3" stroke="#999" stroke-width="0.8" fill="none"/>
<path d="M306 977.5 H312 V979 H316 V983 H312 V984.5 H306" stroke="#222" stroke-width="0.9" fill="none" />
<path d="M343.9 1012 C335 1012 329 1020 328 1032 C327 1042 326 1052 325.5 1057 Q325.5 1062.5 330 1062.8 H357.8 Q362.3 1062.5 362.3 1057 C361.8 1052 360.8 1042 359.8 1032 C358.8 1020 352.8 1012 343.9 1012 Z" stroke="#222" stroke-width="1.3" fill="#fff" />
<path d="M343.9 1015.5 C337 1015.5 332 1022 331 1032 C330 1042 331 1050 336 1055 Q343.9 1058.5 351.8 1055 C356.8 1050 357.8 1042 356.8 1032 C355.8 1022 350.8 1015.5 343.9 1015.5 Z" stroke="#999" stroke-width="0.9" fill="none" />
<rect x="336.5" y="1056.5" width="14.8" height="4.5" stroke="#999" stroke-width="0.8" fill="none"/>
<rect x="306" y="1063.3" width="75.6" height="16.3" stroke="#000" stroke-width="2" fill="url(#hz)"/>
<rect x="382.4" y="1029" width="9.6" height="50.6" stroke="#000" stroke-width="2" fill="url(#hv)"/>
<rect x="392" y="1029" width="142.6" height="50.6" stroke="#000" stroke-width="2" fill="none"/>
<line x1="517.2" y1="1029" x2="517.2" y2="1079.6" stroke="#222" stroke-width="1.5"/>
<rect x="401.9" y="1032.4" width="51.3" height="46.6" stroke="#222" stroke-width="1.2" fill="none"/>
<line x1="402" y1="1036.5" x2="453" y2="1036.5" stroke="#555" stroke-width="0.7"/>
<line x1="402" y1="1050" x2="453" y2="1050" stroke="#888" stroke-width="0.9"/>
<line x1="402" y1="1071.5" x2="453" y2="1071.5" stroke="#888" stroke-width="0.9"/>
<rect x="421" y="1043" width="10" height="5" stroke="#555" stroke-width="0.8" fill="none"/>
<rect x="406" y="1073" width="10" height="4" stroke="#555" stroke-width="0.8" fill="none"/>
<circle cx="446" cy="1075" r="1.5" fill="none" stroke="#555" stroke-width="0.7"/>
<rect x="461" y="1035" width="51.8" height="33" stroke="#444" stroke-width="1" fill="none"/>
<circle cx="486.5" cy="1059" r="1.8" fill="none" stroke="#555" stroke-width="0.9"/>
<path d="M485 1060 V1070 Q486.5 1072 488 1070 V1060" stroke="#555" stroke-width="0.9" fill="none" />
<text x="316.55" y="77.2" font-size="19" fill="#e8121c" text-anchor="middle" dominant-baseline="central" font-family="Liberation Sans" font-weight="normal">飘</text>
<text x="338.25" y="77.2" font-size="19" fill="#e8121c" text-anchor="middle" dominant-baseline="central" font-family="Liberation Sans" font-weight="normal">窗</text>
<text x="359.95" y="77.2" font-size="19" fill="#e8121c" text-anchor="middle" dominant-baseline="central" font-family="Liberation Sans" font-weight="normal">下</text>
<text x="381.65" y="77.2" font-size="19" fill="#e8121c" text-anchor="middle" dominant-baseline="central" font-family="Liberation Sans" font-weight="normal">隐</text>
<text x="403.35" y="77.2" font-size="19" fill="#e8121c" text-anchor="middle" dominant-baseline="central" font-family="Liberation Sans" font-weight="normal">藏</text>
<text x="425.05" y="77.2" font-size="19" fill="#e8121c" text-anchor="middle" dominant-baseline="central" font-family="Liberation Sans" font-weight="normal">的</text>
<text x="446.75" y="77.2" font-size="19" fill="#e8121c" text-anchor="middle" dominant-baseline="central" font-family="Liberation Sans" font-weight="normal">隐</text>
<text x="468.45" y="77.2" font-size="19" fill="#e8121c" text-anchor="middle" dominant-baseline="central" font-family="Liberation Sans" font-weight="normal">形</text>
<text x="490.15" y="77.2" font-size="19" fill="#e8121c" text-anchor="middle" dominant-baseline="central" font-family="Liberation Sans" font-weight="normal">床</text>
<text x="316.55" y="102.7" font-size="19" fill="#e8121c" text-anchor="middle" dominant-baseline="central" font-family="Liberation Sans" font-weight="normal">可</text>
<text x="338.25" y="102.7" font-size="19" fill="#e8121c" text-anchor="middle" dominant-baseline="central" font-family="Liberation Sans" font-weight="normal">以</text>
<text x="359.95" y="102.7" font-size="19" fill="#e8121c" text-anchor="middle" dominant-baseline="central" font-family="Liberation Sans" font-weight="normal">作</text>
<text x="381.65" y="102.7" font-size="19" fill="#e8121c" text-anchor="middle" dominant-baseline="central" font-family="Liberation Sans" font-weight="normal">为</text>
<text x="403.35" y="102.7" font-size="19" fill="#e8121c" text-anchor="middle" dominant-baseline="central" font-family="Liberation Sans" font-weight="normal">临</text>
<text x="425.05" y="102.7" font-size="19" fill="#e8121c" text-anchor="middle" dominant-baseline="central" font-family="Liberation Sans" font-weight="normal">时</text>
<text x="446.75" y="102.7" font-size="19" fill="#e8121c" text-anchor="middle" dominant-baseline="central" font-family="Liberation Sans" font-weight="normal">居</text>
<text x="468.45" y="102.7" font-size="19" fill="#e8121c" text-anchor="middle" dominant-baseline="central" font-family="Liberation Sans" font-weight="normal">住</text>
<text x="490.15" y="102.7" font-size="19" fill="#e8121c" text-anchor="middle" dominant-baseline="central" font-family="Liberation Sans" font-weight="normal">区</text>
<text x="316.55" y="128.2" font-size="19" fill="#e8121c" text-anchor="middle" dominant-baseline="central" font-family="Liberation Sans" font-weight="normal">飘</text>
<text x="338.25" y="128.2" font-size="19" fill="#e8121c" text-anchor="middle" dominant-baseline="central" font-family="Liberation Sans" font-weight="normal">窗</text>
<text x="359.95" y="128.2" font-size="19" fill="#e8121c" text-anchor="middle" dominant-baseline="central" font-family="Liberation Sans" font-weight="normal">可</text>
<text x="381.65" y="128.2" font-size="19" fill="#e8121c" text-anchor="middle" dominant-baseline="central" font-family="Liberation Sans" font-weight="normal">作</text>
<text x="403.35" y="128.2" font-size="19" fill="#e8121c" text-anchor="middle" dominant-baseline="central" font-family="Liberation Sans" font-weight="normal">为</text>
<text x="425.05" y="128.2" font-size="19" fill="#e8121c" text-anchor="middle" dominant-baseline="central" font-family="Liberation Sans" font-weight="normal">餐</text>
<text x="446.75" y="128.2" font-size="19" fill="#e8121c" text-anchor="middle" dominant-baseline="central" font-family="Liberation Sans" font-weight="normal">椅</text>
<text x="468.45" y="128.2" font-size="19" fill="#e8121c" text-anchor="middle" dominant-baseline="central" font-family="Liberation Sans" font-weight="normal">、</text>
<text x="490.15" y="128.2" font-size="19" fill="#e8121c" text-anchor="middle" dominant-baseline="central" font-family="Liberation Sans" font-weight="normal">看</text>
<text x="511.85" y="128.2" font-size="19" fill="#e8121c" text-anchor="middle" dominant-baseline="central" font-family="Liberation Sans" font-weight="normal">书</text>
<text x="533.55" y="128.2" font-size="19" fill="#e8121c" text-anchor="middle" dominant-baseline="central" font-family="Liberation Sans" font-weight="normal">、</text>
<text x="555.25" y="128.2" font-size="19" fill="#e8121c" text-anchor="middle" dominant-baseline="central" font-family="Liberation Sans" font-weight="normal">办</text>
<text x="576.95" y="128.2" font-size="19" fill="#e8121c" text-anchor="middle" dominant-baseline="central" font-family="Liberation Sans" font-weight="normal">公</text>
<line x1="416.2" y1="138" x2="416.2" y2="288" stroke="#e44" stroke-width="0.7"/>
<text x="154.75" y="438.5" font-size="19" fill="#e8121c" text-anchor="middle" dominant-baseline="central" font-family="Liberation Sans" font-weight="normal">客</text>
<text x="176.45" y="438.5" font-size="19" fill="#e8121c" text-anchor="middle" dominant-baseline="central" font-family="Liberation Sans" font-weight="normal">餐</text>
<text x="198.15" y="438.5" font-size="19" fill="#e8121c" text-anchor="middle" dominant-baseline="central" font-family="Liberation Sans" font-weight="normal">厨</text>
<text x="219.85" y="438.5" font-size="19" fill="#e8121c" text-anchor="middle" dominant-baseline="central" font-family="Liberation Sans" font-weight="normal">空</text>
<text x="241.55" y="438.5" font-size="19" fill="#e8121c" text-anchor="middle" dominant-baseline="central" font-family="Liberation Sans" font-weight="normal">间</text>
<text x="263.25" y="438.5" font-size="19" fill="#e8121c" text-anchor="middle" dominant-baseline="central" font-family="Liberation Sans" font-weight="normal">一</text>
<text x="284.95" y="438.5" font-size="19" fill="#e8121c" text-anchor="middle" dominant-baseline="central" font-family="Liberation Sans" font-weight="normal">体</text>
<text x="154.75" y="464.6" font-size="19" fill="#e8121c" text-anchor="middle" dominant-baseline="central" font-family="Liberation Sans" font-weight="normal">视</text>
<text x="176.45" y="464.6" font-size="19" fill="#e8121c" text-anchor="middle" dominant-baseline="central" font-family="Liberation Sans" font-weight="normal">觉</text>
<text x="198.15" y="464.6" font-size="19" fill="#e8121c" text-anchor="middle" dominant-baseline="central" font-family="Liberation Sans" font-weight="normal">范</text>
<text x="219.85" y="464.6" font-size="19" fill="#e8121c" text-anchor="middle" dominant-baseline="central" font-family="Liberation Sans" font-weight="normal">围</text>
<text x="241.55" y="464.6" font-size="19" fill="#e8121c" text-anchor="middle" dominant-baseline="central" font-family="Liberation Sans" font-weight="normal">更</text>
<text x="263.25" y="464.6" font-size="19" fill="#e8121c" text-anchor="middle" dominant-baseline="central" font-family="Liberation Sans" font-weight="normal">大</text>
<text x="154.75" y="490.7" font-size="19" fill="#e8121c" text-anchor="middle" dominant-baseline="central" font-family="Liberation Sans" font-weight="normal">活</text>
<text x="176.45" y="490.7" font-size="19" fill="#e8121c" text-anchor="middle" dominant-baseline="central" font-family="Liberation Sans" font-weight="normal">动</text>
<text x="198.15" y="490.7" font-size="19" fill="#e8121c" text-anchor="middle" dominant-baseline="central" font-family="Liberation Sans" font-weight="normal">范</text>
<text x="219.85" y="490.7" font-size="19" fill="#e8121c" text-anchor="middle" dominant-baseline="central" font-family="Liberation Sans" font-weight="normal">围</text>
<text x="241.55" y="490.7" font-size="19" fill="#e8121c" text-anchor="middle" dominant-baseline="central" font-family="Liberation Sans" font-weight="normal">广</text>
<text x="154.75" y="516.8" font-size="19" fill="#e8121c" text-anchor="middle" dominant-baseline="central" font-family="Liberation Sans" font-weight="normal">动</text>
<text x="176.45" y="516.8" font-size="19" fill="#e8121c" text-anchor="middle" dominant-baseline="central" font-family="Liberation Sans" font-weight="normal">线</text>
<text x="198.15" y="516.8" font-size="19" fill="#e8121c" text-anchor="middle" dominant-baseline="central" font-family="Liberation Sans" font-weight="normal">畅</text>
<text x="219.85" y="516.8" font-size="19" fill="#e8121c" text-anchor="middle" dominant-baseline="central" font-family="Liberation Sans" font-weight="normal">通</text>
<line x1="244" y1="494.3" x2="394" y2="494.3" stroke="#e44" stroke-width="0.7"/>
<text x="853.4" y="365.5" font-size="19" fill="#e8121c" text-anchor="middle" dominant-baseline="central" font-family="Liberation Sans" font-weight="normal">U</text>
<text x="871.7" y="365.5" font-size="19" fill="#e8121c" text-anchor="middle" dominant-baseline="central" font-family="Liberation Sans" font-weight="normal">字</text>
<text x="893.3" y="365.5" font-size="19" fill="#e8121c" text-anchor="middle" dominant-baseline="central" font-family="Liberation Sans" font-weight="normal">型</text>
<text x="914.5" y="365.5" font-size="19" fill="#e8121c" text-anchor="middle" dominant-baseline="central" font-family="Liberation Sans" font-weight="normal">开</text>
<text x="937" y="365.5" font-size="19" fill="#e8121c" text-anchor="middle" dominant-baseline="central" font-family="Liberation Sans" font-weight="normal">放</text>
<text x="958.7" y="365.5" font-size="19" fill="#e8121c" text-anchor="middle" dominant-baseline="central" font-family="Liberation Sans" font-weight="normal">式</text>
<text x="981" y="365.5" font-size="19" fill="#e8121c" text-anchor="middle" dominant-baseline="central" font-family="Liberation Sans" font-weight="normal">厨</text>
<text x="1002" y="365.5" font-size="19" fill="#e8121c" text-anchor="middle" dominant-baseline="central" font-family="Liberation Sans" font-weight="normal">房</text>
<text x="853.55" y="391.6" font-size="19" fill="#e8121c" text-anchor="middle" dominant-baseline="central" font-family="Liberation Sans" font-weight="normal">嵌</text>
<text x="875.25" y="391.6" font-size="19" fill="#e8121c" text-anchor="middle" dominant-baseline="central" font-family="Liberation Sans" font-weight="normal">入</text>
<text x="896.95" y="391.6" font-size="19" fill="#e8121c" text-anchor="middle" dominant-baseline="central" font-family="Liberation Sans" font-weight="normal">式</text>
<text x="918.65" y="391.6" font-size="19" fill="#e8121c" text-anchor="middle" dominant-baseline="central" font-family="Liberation Sans" font-weight="normal">电</text>
<text x="940.35" y="391.6" font-size="19" fill="#e8121c" text-anchor="middle" dominant-baseline="central" font-family="Liberation Sans" font-weight="normal">器</text>
<text x="853.55" y="417.7" font-size="19" fill="#e8121c" text-anchor="middle" dominant-baseline="central" font-family="Liberation Sans" font-weight="normal">高</text>
<text x="875.25" y="417.7" font-size="19" fill="#e8121c" text-anchor="middle" dominant-baseline="central" font-family="Liberation Sans" font-weight="normal">低</text>
<text x="896.95" y="417.7" font-size="19" fill="#e8121c" text-anchor="middle" dominant-baseline="central" font-family="Liberation Sans" font-weight="normal">台</text>
<text x="918.65" y="417.7" font-size="19" fill="#e8121c" text-anchor="middle" dominant-baseline="central" font-family="Liberation Sans" font-weight="normal">面</text>
<text x="940.35" y="417.7" font-size="19" fill="#e8121c" text-anchor="middle" dominant-baseline="central" font-family="Liberation Sans" font-weight="normal">，</text>
<text x="962.05" y="417.7" font-size="19" fill="#e8121c" text-anchor="middle" dominant-baseline="central" font-family="Liberation Sans" font-weight="normal">使</text>
<text x="983.75" y="417.7" font-size="19" fill="#e8121c" text-anchor="middle" dominant-baseline="central" font-family="Liberation Sans" font-weight="normal">用</text>
<text x="1005.45" y="417.7" font-size="19" fill="#e8121c" text-anchor="middle" dominant-baseline="central" font-family="Liberation Sans" font-weight="normal">方</text>
<text x="1027.15" y="417.7" font-size="19" fill="#e8121c" text-anchor="middle" dominant-baseline="central" font-family="Liberation Sans" font-weight="normal">便</text>
<line x1="694.3" y1="365.4" x2="843" y2="365.4" stroke="#e44" stroke-width="0.7"/>
<text x="105.45" y="962.2" font-size="19" fill="#e8121c" text-anchor="middle" dominant-baseline="central" font-family="Liberation Sans" font-weight="normal">三</text>
<text x="127.15" y="962.2" font-size="19" fill="#e8121c" text-anchor="middle" dominant-baseline="central" font-family="Liberation Sans" font-weight="normal">分</text>
<text x="148.85" y="962.2" font-size="19" fill="#e8121c" text-anchor="middle" dominant-baseline="central" font-family="Liberation Sans" font-weight="normal">离</text>
<text x="170.55" y="962.2" font-size="19" fill="#e8121c" text-anchor="middle" dominant-baseline="central" font-family="Liberation Sans" font-weight="normal">式</text>
<text x="192.25" y="962.2" font-size="19" fill="#e8121c" text-anchor="middle" dominant-baseline="central" font-family="Liberation Sans" font-weight="normal">的</text>
<text x="213.95" y="962.2" font-size="19" fill="#e8121c" text-anchor="middle" dominant-baseline="central" font-family="Liberation Sans" font-weight="normal">卫</text>
<text x="235.65" y="962.2" font-size="19" fill="#e8121c" text-anchor="middle" dominant-baseline="central" font-family="Liberation Sans" font-weight="normal">生</text>
<text x="257.35" y="962.2" font-size="19" fill="#e8121c" text-anchor="middle" dominant-baseline="central" font-family="Liberation Sans" font-weight="normal">间</text>
<line x1="192" y1="981.1" x2="342" y2="981.1" stroke="#e44" stroke-width="0.7"/>
<text x="854.05" y="1028.0" font-size="19" fill="#e8121c" text-anchor="middle" dominant-baseline="central" font-family="Liberation Sans" font-weight="normal">玄</text>
<text x="875.75" y="1028.0" font-size="19" fill="#e8121c" text-anchor="middle" dominant-baseline="central" font-family="Liberation Sans" font-weight="normal">关</text>
<text x="897.45" y="1028.0" font-size="19" fill="#e8121c" text-anchor="middle" dominant-baseline="central" font-family="Liberation Sans" font-weight="normal">与</text>
<text x="919.15" y="1028.0" font-size="19" fill="#e8121c" text-anchor="middle" dominant-baseline="central" font-family="Liberation Sans" font-weight="normal">走</text>
<text x="940.85" y="1028.0" font-size="19" fill="#e8121c" text-anchor="middle" dominant-baseline="central" font-family="Liberation Sans" font-weight="normal">廊</text>
<text x="962.55" y="1028.0" font-size="19" fill="#e8121c" text-anchor="middle" dominant-baseline="central" font-family="Liberation Sans" font-weight="normal">结</text>
<text x="984.25" y="1028.0" font-size="19" fill="#e8121c" text-anchor="middle" dominant-baseline="central" font-family="Liberation Sans" font-weight="normal">合</text>
<text x="859.05" y="1053.5" font-size="19" fill="#e8121c" text-anchor="middle" dominant-baseline="central" font-family="Liberation Sans" font-weight="normal">“</text>
<text x="875.75" y="1053.5" font-size="19" fill="#e8121c" text-anchor="middle" dominant-baseline="central" font-family="Liberation Sans" font-weight="normal">曲</text>
<text x="897.45" y="1053.5" font-size="19" fill="#e8121c" text-anchor="middle" dominant-baseline="central" font-family="Liberation Sans" font-weight="normal">径</text>
<text x="919.15" y="1053.5" font-size="19" fill="#e8121c" text-anchor="middle" dominant-baseline="central" font-family="Liberation Sans" font-weight="normal">通</text>
<text x="940.85" y="1053.5" font-size="19" fill="#e8121c" text-anchor="middle" dominant-baseline="central" font-family="Liberation Sans" font-weight="normal">幽</text>
<text x="962.55" y="1053.5" font-size="19" fill="#e8121c" text-anchor="middle" dominant-baseline="central" font-family="Liberation Sans" font-weight="normal">处</text>
<text x="977.25" y="1053.5" font-size="19" fill="#e8121c" text-anchor="middle" dominant-baseline="central" font-family="Liberation Sans" font-weight="normal">”</text>
<text x="1005.95" y="1053.5" font-size="19" fill="#e8121c" text-anchor="middle" dominant-baseline="central" font-family="Liberation Sans" font-weight="normal">处</text>
<text x="1027.65" y="1053.5" font-size="19" fill="#e8121c" text-anchor="middle" dominant-baseline="central" font-family="Liberation Sans" font-weight="normal">理</text>
<text x="854.05" y="1079.0" font-size="19" fill="#e8121c" text-anchor="middle" dominant-baseline="central" font-family="Liberation Sans" font-weight="normal">确</text>
<text x="875.75" y="1079.0" font-size="19" fill="#e8121c" text-anchor="middle" dominant-baseline="central" font-family="Liberation Sans" font-weight="normal">保</text>
<text x="897.45" y="1079.0" font-size="19" fill="#e8121c" text-anchor="middle" dominant-baseline="central" font-family="Liberation Sans" font-weight="normal">室</text>
<text x="919.15" y="1079.0" font-size="19" fill="#e8121c" text-anchor="middle" dominant-baseline="central" font-family="Liberation Sans" font-weight="normal">内</text>
<text x="940.85" y="1079.0" font-size="19" fill="#e8121c" text-anchor="middle" dominant-baseline="central" font-family="Liberation Sans" font-weight="normal">隐</text>
<text x="962.55" y="1079.0" font-size="19" fill="#e8121c" text-anchor="middle" dominant-baseline="central" font-family="Liberation Sans" font-weight="normal">私</text>
<line x1="699" y1="1047.5" x2="845" y2="1047.5" stroke="#e44" stroke-width="0.7"/>
<circle cx="416.3" cy="288.1" r="4.5" fill="#f00"/>
<circle cx="394" cy="494.3" r="4.5" fill="#f00"/>
<circle cx="694.3" cy="365.4" r="4.5" fill="#f00"/>
<circle cx="342.2" cy="981.1" r="4.5" fill="#f00"/>
<circle cx="698.75" cy="1047.5" r="4.5" fill="#f00"/>
<circle cx="440.6" cy="1249.4" r="22.3" fill="none" stroke="#666" stroke-width="0.8"/>
<circle cx="440.6" cy="1249.4" r="20.2" fill="none" stroke="#000" stroke-width="1.3"/>
<line x1="419.3" y1="1249.4" x2="696.3" y2="1249.4" stroke="#000" stroke-width="1.6"/>
<text x="468" y="1243.8" font-size="20" fill="#111" stroke="#fff" stroke-width="0.3" font-family="Liberation Sans" textLength="56.6" lengthAdjust="spacingAndGlyphs">WALL</text>
<text x="537" y="1243.8" font-size="20" fill="#111" stroke="#fff" stroke-width="0.3" font-family="Liberation Sans" textLength="55" lengthAdjust="spacingAndGlyphs">PLAN</text>
<text x="619.3" y="1243.5" font-size="18.5" fill="#111" stroke="#fff" stroke-width="0.35" font-family="&quot;Liberation Serif&quot;, serif" textLength="72.6" lengthAdjust="spacingAndGlyphs">平面布置</text>
<text x="428.5" y="1261.8" font-size="12" fill="#222" font-family="Liberation Serif" textLength="23.5" lengthAdjust="spacingAndGlyphs">1-W5</text>
<text x="466.5" y="1261.8" font-size="11.5" fill="#666" font-family="Liberation Sans" textLength="36" lengthAdjust="spacingAndGlyphs">SCALE</text>
<text x="662.2" y="1261.8" font-size="11.5" fill="#666" font-family="Liberation Sans" textLength="26.7" lengthAdjust="spacingAndGlyphs">1:50</text>
</svg>
<div class="wm">住小帮@妍筑国际设计事务所</div>
</body></html>
